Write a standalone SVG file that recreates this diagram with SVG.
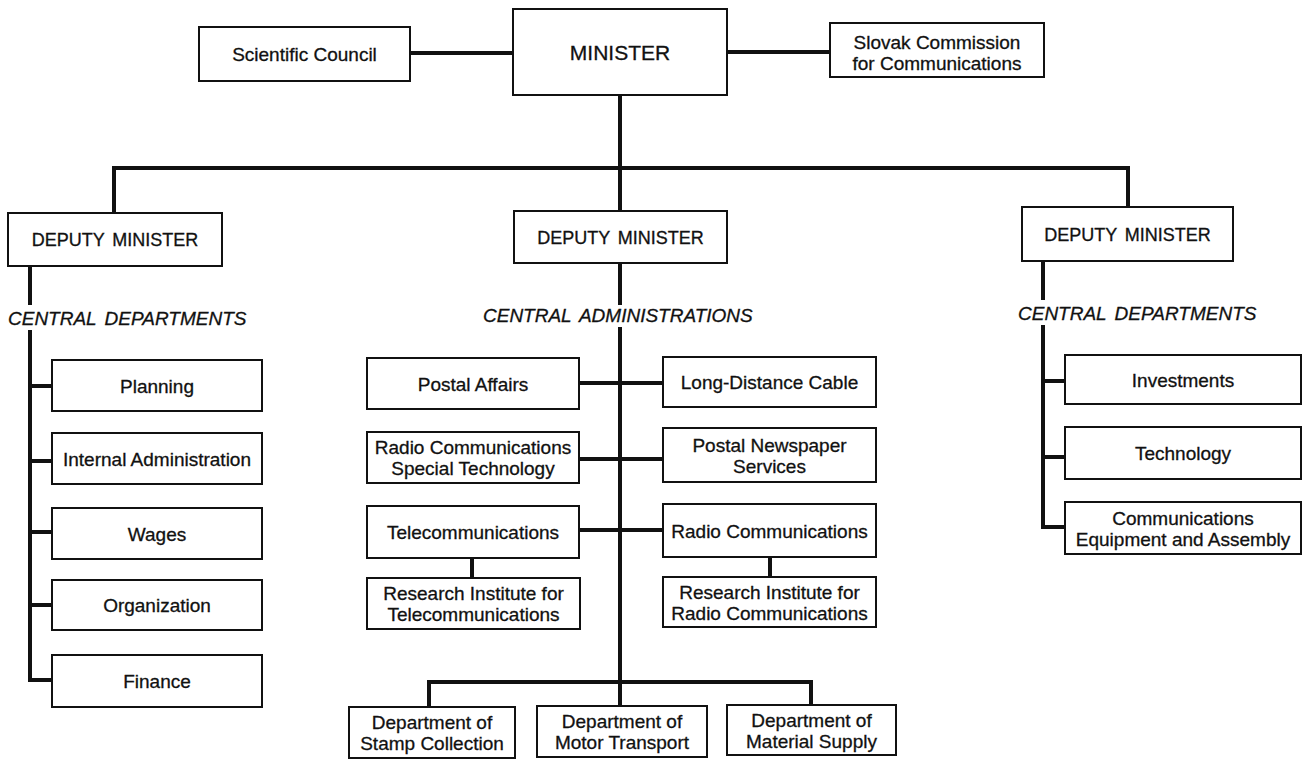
<svg xmlns="http://www.w3.org/2000/svg" width="1307" height="762" viewBox="0 0 1307 762">
<style>
.box{fill:#fff;stroke:#111;stroke-width:2}
.t{font-family:'Liberation Sans',Arial,sans-serif;font-size:19px;fill:#111;stroke:#111;stroke-width:0.3;text-anchor:middle}
.h{font-family:'Liberation Sans',Arial,sans-serif;font-size:19px;font-style:italic;fill:#111;stroke:#111;stroke-width:0.3;text-anchor:start;word-spacing:3px}
.c{stroke:#111;stroke-width:4;fill:none;stroke-linejoin:miter;stroke-linecap:butt}
</style>
<rect width="1307" height="762" fill="#fff"/>
<g id="connectors">
<path class="c" d="M410 53H513"/>
<path class="c" d="M727 52H830"/>
<path class="c" d="M620 95V211"/>
<path class="c" d="M114 213V168H1128V207"/>
<path class="c" d="M30 266V305"/>
<path class="c" d="M30 330V680H52"/>
<path class="c" d="M30 386H52M30 461H52M30 532H52M30 605H52"/>
<path class="c" d="M620 263V305"/>
<path class="c" d="M620 327V706"/>
<path class="c" d="M579 383H663M579 459H663M579 530H663"/>
<path class="c" d="M472 558V578"/>
<path class="c" d="M770 557V577"/>
<path class="c" d="M429 707V682H811V705"/>
<path class="c" d="M1043 261V300"/>
<path class="c" d="M1043 325V527H1065"/>
<path class="c" d="M1043 381H1065M1043 457H1065"/>
</g>
<g id="scientific-council"><rect class="box" x="199" y="27" width="211" height="54"/><text class="t" x="304.5" y="61">Scientific Council</text></g>
<g id="minister"><rect class="box" x="513" y="9" width="214" height="86"/><text class="t" x="620" y="59.5" style="font-size:21px">MINISTER</text></g>
<g id="slovak-commission"><rect class="box" x="830" y="23" width="214" height="54"/><text class="t" x="937" y="48.5">Slovak Commission<tspan x="937" dy="21">for Communications</tspan></text></g>
<g id="deputy-left"><rect class="box" x="8" y="213" width="214" height="53"/><text class="t" x="115" y="246" style="font-size:18px;word-spacing:3px">DEPUTY MINISTER</text></g>
<g id="deputy-center"><rect class="box" x="514" y="211" width="213" height="52"/><text class="t" x="620.5" y="244" style="font-size:18px;word-spacing:3px">DEPUTY MINISTER</text></g>
<g id="deputy-right"><rect class="box" x="1022" y="207" width="211" height="54"/><text class="t" x="1127.5" y="241" style="font-size:18px;word-spacing:3px">DEPUTY MINISTER</text></g>
<g id="label-left"><text class="h" x="8" y="325">CENTRAL DEPARTMENTS</text></g>
<g id="label-center"><text class="h" x="483" y="322">CENTRAL ADMINISTRATIONS</text></g>
<g id="label-right"><text class="h" x="1018" y="320">CENTRAL DEPARTMENTS</text></g>
<g id="planning"><rect class="box" x="52" y="360" width="210" height="51"/><text class="t" x="157" y="392.5">Planning</text></g>
<g id="internal-administration"><rect class="box" x="52" y="433" width="210" height="51"/><text class="t" x="157" y="465.5">Internal Administration</text></g>
<g id="wages"><rect class="box" x="52" y="508" width="210" height="51"/><text class="t" x="157" y="540.5">Wages</text></g>
<g id="organization"><rect class="box" x="52" y="580" width="210" height="50"/><text class="t" x="157" y="612">Organization</text></g>
<g id="finance"><rect class="box" x="52" y="655" width="210" height="52"/><text class="t" x="157" y="688">Finance</text></g>
<g id="postal-affairs"><rect class="box" x="367" y="358" width="212" height="51"/><text class="t" x="473" y="390.5">Postal Affairs</text></g>
<g id="radio-special"><rect class="box" x="367" y="432" width="212" height="51"/><text class="t" x="473" y="454">Radio Communications<tspan x="473" dy="21">Special Technology</tspan></text></g>
<g id="telecommunications"><rect class="box" x="367" y="506" width="212" height="52"/><text class="t" x="473" y="539">Telecommunications</text></g>
<g id="research-telecom"><rect class="box" x="367" y="578" width="213" height="51"/><text class="t" x="473.5" y="600">Research Institute for<tspan x="473.5" dy="21">Telecommunications</tspan></text></g>
<g id="long-distance-cable"><rect class="box" x="663" y="357" width="213" height="50"/><text class="t" x="769.5" y="389">Long-Distance Cable</text></g>
<g id="postal-newspaper"><rect class="box" x="663" y="428" width="213" height="54"/><text class="t" x="769.5" y="451.5">Postal Newspaper<tspan x="769.5" dy="21">Services</tspan></text></g>
<g id="radio-communications"><rect class="box" x="663" y="504" width="213" height="53"/><text class="t" x="769.5" y="537.5">Radio Communications</text></g>
<g id="research-radio"><rect class="box" x="663" y="577" width="213" height="50"/><text class="t" x="769.5" y="598.5">Research Institute for<tspan x="769.5" dy="21">Radio Communications</tspan></text></g>
<g id="stamp-collection"><rect class="box" x="349" y="707" width="166" height="51"/><text class="t" x="432" y="729">Department of<tspan x="432" dy="21">Stamp Collection</tspan></text></g>
<g id="motor-transport"><rect class="box" x="537" y="706" width="170" height="51"/><text class="t" x="622" y="728">Department of<tspan x="622" dy="21">Motor Transport</tspan></text></g>
<g id="material-supply"><rect class="box" x="727" y="705" width="169" height="50"/><text class="t" x="811.5" y="726.5">Department of<tspan x="811.5" dy="21">Material Supply</tspan></text></g>
<g id="investments"><rect class="box" x="1065" y="355" width="236" height="49"/><text class="t" x="1183" y="386.5">Investments</text></g>
<g id="technology"><rect class="box" x="1065" y="427" width="236" height="52"/><text class="t" x="1183" y="460">Technology</text></g>
<g id="comm-equipment"><rect class="box" x="1065" y="502" width="236" height="52"/><text class="t" x="1183" y="524.5">Communications<tspan x="1183" dy="21">Equipment and Assembly</tspan></text></g>
</svg>
